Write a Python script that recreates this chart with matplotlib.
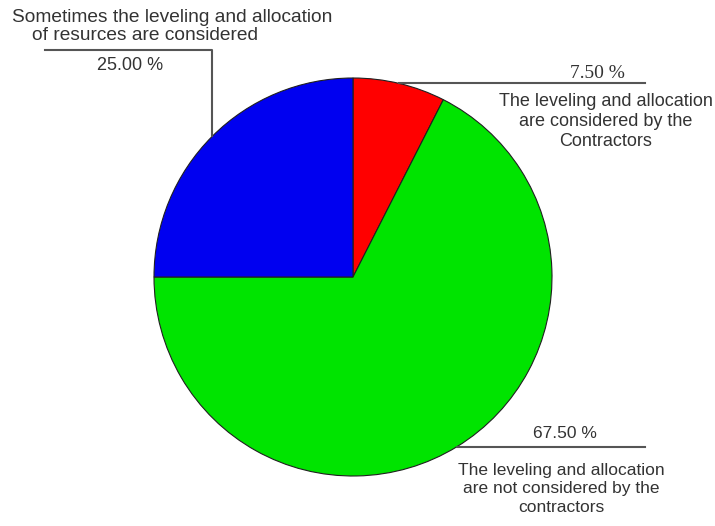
import matplotlib
matplotlib.use("Agg")
import matplotlib.pyplot as plt
import numpy as np

# shares of contractors (%), clockwise from 12 o'clock
shares = [7.50, 67.50, 25.00]
colors = ["#FF0000", "#00E400", "#0000F0"]
captions = [
    ["The leveling and allocation", "are considered by the", "Contractors"],
    ["The leveling and allocation", "are not considered by the", "contractors"],
    ["Sometimes the leveling and allocation", "of resurces are considered"],
]

W, H = 715, 526
CX, CY, R = 353, H - 277, 199
TXT, LINE = "#333333", "#555555"
SANS = "Liberation Sans"

fig = plt.figure(figsize=(W / 100, H / 100), dpi=100)
ax = fig.add_axes([0, 0, 1, 1])
wedges, _ = ax.pie(shares, colors=colors, startangle=90, counterclock=False,
                   center=(CX, CY), radius=R,
                   wedgeprops={"edgecolor": "#202020", "linewidth": 0.8})
ax.set_xlim(0, W); ax.set_ylim(0, H); ax.set_aspect("equal"); ax.axis("off")


def edge_point(w):
    a = np.deg2rad((w.theta1 + w.theta2) / 2)
    return CX + R * np.cos(a), CY + R * np.sin(a)


pct = [f"{v:.2f} %" for v in shares]

# red: leader runs right along the top
x0, y0 = edge_point(wedges[0])
ax.plot([x0, 645], [y0, y0], color=LINE, lw=1.5)
ax.text(597, H - 73, pct[0], ha="center", va="center", fontsize=14,
        family="Liberation Serif", color=TXT)
for i, s in enumerate(captions[0]):
    ax.text(606, H - 101 - 20 * i, s, ha="center", va="center", fontsize=13,
            family=SANS, color=TXT)

# green: leader runs right near the bottom
x0, y0 = edge_point(wedges[1])
ax.plot([x0, 645], [y0, y0], color=LINE, lw=1.5)
ax.text(565, H - 433, pct[1], ha="center", va="center", fontsize=12.5,
        family=SANS, color=TXT)
for i, s in enumerate(captions[1]):
    ax.text(561, H - 470 - 19 * i, s, ha="center", va="center", fontsize=12.5,
            family=SANS, color=TXT)

# blue: leader goes up, then left
x0, y0 = edge_point(wedges[2])
ax.plot([x0, x0, 45], [y0, H - 50, H - 50], color=LINE, lw=1.5)
ax.text(130, H - 65, pct[2], ha="center", va="center", fontsize=13,
        family=SANS, color=TXT)
ax.text(12, H - 17, captions[2][0], ha="left", va="center", fontsize=13.8,
        family=SANS, color=TXT)
ax.text(32, H - 36, captions[2][1], ha="left", va="center", fontsize=13.8,
        family=SANS, color=TXT)

fig.savefig("out.png", dpi=100)
